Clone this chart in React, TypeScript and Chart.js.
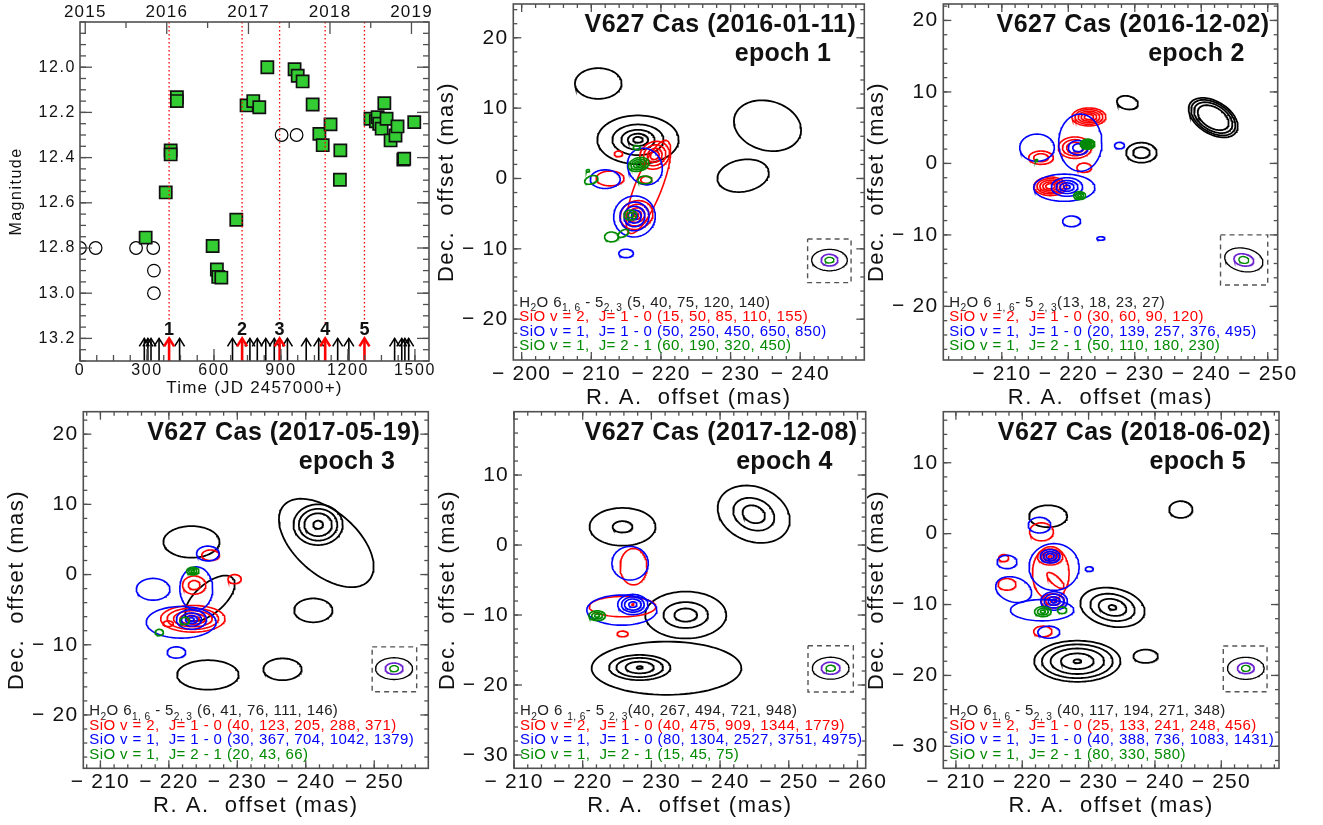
import React, { useEffect, useRef } from 'react';
import { Chart, registerables } from 'chart.js';
Chart.register(...registerables);

const W = 1323;
const H = 825;
const FONT = '"Liberation Sans", Helvetica, Arial, sans-serif';

// ---------------- light curve data ----------------
const sqJD = [294, 384, 406, 406, 434, 434, 594, 613, 619, 633, 700, 746, 776, 803, 839, 961, 975, 997, 1042, 1072, 1087, 1122, 1166, 1164, 1301, 1325, 1333, 1340, 1351, 1363, 1373, 1391, 1413, 1422, 1448, 1452, 1497];
const sqMag = [12.754, 12.554, 12.368, 12.386, 12.133, 12.15, 12.791, 12.895, 12.928, 12.931, 12.675, 12.169, 12.15, 12.177, 12.0, 12.009, 12.038, 12.063, 12.165, 12.295, 12.345, 12.253, 12.368, 12.498, 12.228, 12.239, 12.221, 12.25, 12.272, 12.159, 12.228, 12.324, 12.302, 12.262, 12.409, 12.405, 12.243];
const ocJD = [0, 70, 251, 328, 331, 331, 903, 970];
const ocMag = [12.8, 12.8, 12.8, 12.8, 12.9, 13.0, 12.3, 12.3];
const epochJD = [399, 726, 894, 1098, 1274];
const epochNum = ['1', '2', '3', '4', '5'];
const obsJD = [288, 304, 318, 354, 446, 683, 761, 794, 832, 870, 929, 1013, 1069, 1154, 1204, 1409, 1441, 1455, 1472];
const lcXTicks = [0, 300, 600, 900, 1200, 1500];
const lcYTicks = [12.0, 12.2, 12.4, 12.6, 12.8, 13.0, 13.2];
const yearJD = [23.5, 388.5, 754.5, 1119.5, 1484.5];
const yearLabels = ['2015', '2016', '2017', '2018', '2019'];
const halfYearJD = [206, 571.5, 937, 1302];

// ---------------- maps: blobs [RA, Dec, a, b, angle(deg), ...level scales] ----------------
const ep1H2O = [
  [-211.0, 13.5, 3.35, 2.18, 0, 1],
  [-216.7, 5.5, 5.84, 3.46, 0, 1, 0.63, 0.41, 0.25, 0.12],
  [-235.3, 7.5, 4.9, 3.5, -15, 1],
  [-231.8, 0.4, 3.73, 2.27, 10, 1],
];
const ep1V2 = [
  [-219.1, 3.3, 2.2, 1.9, 30, 1, 0.75, 0.5, 0.3],
  [-218.2, -1.2, 7.1, 1.9, 68, 1],
  [-216.5, -5.2, 2.4, 2.0, 20, 1, 0.75, 0.5, 0.3, 0.12],
  [-213.9, 3.5, 0.6, 0.4, 0, 1],
  [-212.7, 0.0, 2.0, 1.05, 0, 1],
  [-217.9, -0.2, 0.8, 0.5, 0, 1],
];
const ep1V1 = [
  [-212.0, -0.1, 2.15, 1.33, 0, 1],
  [-217.7, 1.7, 2.4, 2.7, 35, 1],
  [-216.2, -5.4, 3.0, 2.9, 20, 1, 0.7, 0.5, 0.32, 0.15],
  [-215.0, -10.65, 1.05, 0.6, 0, 1],
];
const ep1J21 = [
  [-216.8, 2.0, 1.5, 0.95, 15, 1, 0.75, 0.5, 0.25],
  [-216.5, 4.4, 0.5, 0.3, 0, 1],
  [-217.7, -0.2, 1.0, 0.55, 0, 1],
  [-210.0, -0.2, 1.0, 0.55, 20, 1],
  [-209.5, 1.1, 0.25, 0.18, 0, 1],
  [-215.6, -5.2, 0.9, 0.7, 0, 1, 0.5],
  [-212.9, -8.3, 1.0, 0.7, 0, 1],
  [-214.6, -7.8, 0.85, 0.45, 30, 1],
];
const ep1Beam = [-244.2, -11.6, 2.56, 1.52, 1.2, 0.83, 0.65, 0.4, 0];
const ep1BeamBox = [-241.06, -247.3, -8.6, -14.8];

const ep2H2O = [
  [-228.9, 8.5, 1.6, 0.93, -10, 1],
  [-241.8, 6.4, 4.0, 2.3, -28, 1, 0.9, 0.78, 0.63],
  [-231.0, 1.5, 2.3, 1.4, 0, 1, 0.55],
];
const ep2V2 = [
  [-223.1, 6.5, 2.55, 1.26, 0, 1, 0.82, 0.64, 0.46, 0.28],
  [-221.0, 2.2, 2.5, 1.5, 0, 1, 0.75, 0.5],
  [-215.9, 0.8, 1.85, 0.93, 0, 1, 0.6],
  [-222.4, -0.6, 1.1, 0.65, 0, 1],
  [-217.3, -3.2, 2.45, 1.3, 0, 1, 0.82, 0.64, 0.46, 0.28],
];
const ep2V1 = [
  [-221.8, 2.9, 3.25, 4.0, 0, 1],
  [-219.4, -3.4, 4.6, 1.9, 0, 1],
  [-215.3, 2.2, 2.6, 1.9, 0, 1],
  [-219.8, -3.3, 2.35, 1.3, 0, 1, 0.7, 0.45, 0.2],
  [-221.5, 2.2, 1.5, 1.0, 0, 1, 0.55],
  [-227.7, 2.5, 0.75, 0.45, 0, 1],
  [-220.5, -8.1, 1.35, 0.75, 0, 1],
  [-224.9, -10.5, 0.6, 0.25, 0, 1],
];
const ep2J21 = [
  [-222.9, 2.7, 1.1, 0.7, 0, 1, 0.8, 0.6, 0.4, 0.2],
  [-221.7, -4.5, 0.9, 0.55, 0, 1, 0.65, 0.3],
  [-215.2, 0.4, 0.2, 0.15, 0, 1],
];
const ep2Beam = [-246.4, -13.5, 2.9, 1.63, 1.5, 0.84, 0.75, 0.47, -10];
const ep2BeamBox = [-242.9, -250.0, -10.0, -17.0];

const ep3H2O = [
  [-223.3, 4.65, 4.1, 2.25, 0, 1],
  [-243.0, 4.5, 8.2, 4.5, -40, 1],
  [-241.8, 7.1, 3.6, 2.9, 0, 1, 0.78, 0.56, 0.2],
  [-226.0, -3.4, 4.4, 2.1, 40, 1],
  [-241.1, -5.1, 2.8, 1.7, 0, 1],
  [-225.7, -14.3, 4.5, 2.1, 0, 1],
  [-236.6, -13.5, 2.8, 1.55, 0, 1],
];
const ep3V2 = [
  [-223.5, -6.3, 4.7, 1.9, 0, 1, 0.8, 0.6, 0.4, 0.2],
  [-219.9, -7.0, 0.75, 0.4, 0, 1],
  [-223.7, -1.5, 1.7, 1.3, 0, 1, 0.5],
  [-226.1, 2.75, 1.3, 0.75, 0, 1],
  [-229.6, -0.65, 0.97, 0.65, 0, 1],
];
const ep3V1 = [
  [-225.7, 3.0, 1.65, 1.05, 0, 1],
  [-217.7, -2.1, 2.45, 1.55, 0, 1],
  [-224.0, -2.0, 2.4, 3.1, 0, 1],
  [-221.8, -6.8, 5.1, 2.25, 0, 1],
  [-223.3, -6.4, 2.2, 1.4, 0, 1, 0.67, 0.4, 0.18],
  [-221.1, -11.1, 1.35, 0.8, 0, 1],
];
const ep3J21 = [
  [-223.5, 0.5, 0.9, 0.55, 0, 1, 0.65, 0.3],
  [-222.3, -6.6, 0.7, 0.5, 0, 1],
  [-218.6, -8.25, 0.6, 0.45, 0, 1],
];
const ep3Beam = [-252.9, -13.4, 2.7, 1.55, 1.3, 0.8, 0.63, 0.43, 0];
const ep3BeamBox = [-249.7, -256.2, -10.3, -16.7];

const ep4H2O = [
  [-225.8, 2.6, 4.8, 2.7, 0, 1, 0.3],
  [-244.9, 4.4, 5.4, 3.9, -20, 1, 0.57, 0.31],
  [-235.0, -10.0, 5.9, 3.35, 0, 1, 0.55, 0.28],
  [-232.2, -17.6, 10.9, 3.8, 0, 1],
  [-228.3, -17.5, 4.47, 1.8, 0, 1, 0.76, 0.46, 0.1],
];
const ep4V2 = [
  [-227.4, -3.1, 1.95, 2.6, 0, 1],
  [-225.8, -8.8, 4.85, 1.45, 0, 1],
  [-227.3, -8.5, 0.15, 0.1, 0, 1],
  [-225.8, -12.7, 0.8, 0.4, 0, 1],
];
const ep4V1 = [
  [-226.9, -2.6, 2.65, 2.4, 0, 1],
  [-225.7, -9.3, 5.1, 2.15, 0, 1],
  [-227.3, -8.5, 2.2, 1.45, 0, 1, 0.75, 0.55, 0.27],
];
const ep4J21 = [
  [-222.1, -10.1, 1.2, 0.7, 0, 1, 0.65, 0.3],
];
const ep4Beam = [-256.1, -17.6, 2.67, 1.57, 1.36, 0.86, 0.68, 0.43, 0];
const ep4BeamBox = [-252.8, -259.4, -14.4, -21.0];

const ep5H2O = [
  [-223.9, 2.45, 2.87, 1.55, 0, 1],
  [-243.9, 3.4, 1.76, 1.18, 0, 1],
  [-233.6, -10.4, 4.9, 2.7, -10, 1, 0.69, 0.43, 0.12],
  [-228.3, -18.0, 6.5, 2.9, 0, 1, 0.82, 0.62, 0.38, 0.09],
  [-238.6, -17.3, 1.85, 0.94, 0, 1],
];
const ep5V2 = [
  [-222.9, 0.25, 1.8, 1.27, 0, 1],
  [-224.3, -5.6, 2.76, 3.76, 0, 1],
  [-224.2, -3.3, 1.9, 1.13, 0, 1, 0.7, 0.45, 0.15],
  [-225.0, -6.6, 1.6, 0.6, -40, 1],
  [-224.6, -9.5, 1.75, 1.0, 0, 1, 0.6, 0.2],
  [-217.2, -3.45, 0.75, 0.5, 0, 1],
  [-217.7, -7.15, 1.35, 0.82, 0, 1],
  [-223.1, -13.8, 1.38, 0.75, 0, 1],
];
const ep5V1 = [
  [-222.6, 1.2, 1.7, 1.1, 0, 1],
  [-217.7, -4.0, 1.5, 0.94, 0, 1],
  [-218.7, -7.9, 2.76, 1.74, -15, 1],
  [-224.8, -4.7, 3.77, 3.3, 0, 1],
  [-223.0, -10.8, 4.77, 1.5, 0, 1],
  [-224.2, -3.2, 1.5, 0.95, 0, 1, 0.7, 0.4],
  [-224.8, -9.5, 2.0, 1.3, 0, 1, 0.75, 0.45, 0.2],
  [-230.1, -5.0, 0.6, 0.33, 0, 1],
  [-224.0, -13.9, 1.65, 0.85, 0, 1],
];
const ep5J21 = [
  [-223.1, -11.0, 1.25, 0.7, 0, 1, 0.65, 0.3],
  [-226.0, -10.8, 0.7, 0.47, 0, 1],
];
const ep5Beam = [-253.7, -19.0, 2.76, 1.55, 1.26, 0.75, 0.65, 0.42, 0];
const ep5BeamBox = [-250.3, -256.9, -15.85, -22.3];

const epochDates = ['2016-01-11', '2016-12-02', '2017-05-19', '2017-12-08', '2018-06-02'];
const legH2O = ['(5, 40, 75, 120, 140)', '(13, 18, 23, 27)', '(6, 41, 76, 111, 146)', '(40, 267, 494, 721, 948)', '(40, 117, 194, 271, 348)'];
const legV2 = ['(15, 50, 85, 110, 155)', '(30, 60, 90, 120)', '(40, 123, 205, 288, 371)', '(40, 475, 909, 1344, 1779)', '(25, 133, 241, 248, 456)'];
const legV1 = ['(50, 250, 450, 650, 850)', '(20, 139, 257, 376, 495)', '(30, 367, 704, 1042, 1379)', '(80, 1304, 2527, 3751, 4975)', '(40, 388, 736, 1083, 1431)'];
const legJ21 = ['(60, 190, 320, 450)', '(50, 110, 180, 230)', '(20, 43, 66)', '(15, 45, 75)', '(80, 330, 580)'];
const h2oStyle = ['A', 'B', 'A', 'B', 'A'];

// ---------------- layout (positions / view ranges) ----------------
const LC_RECT = [80, 22, 429, 361];
const LC_X = [0, 1563];
const LC_Y = [11.8, 13.3];

const MAPS = [
  { rect: [513.3, 4, 864.3, 360], xr: [-198.8, -249.2], yr: [-25.8, 24.8], xt: [-200, -210, -220, -230, -240], yt: [-20, -10, 0, 10, 20], blobs: [ep1H2O, ep1V2, ep1V1, ep1J21], beam: ep1Beam, box: ep1BeamBox },
  { rect: [943.3, 4, 1277.7, 360], xr: [-201.2, -251.5], yr: [-27.5, 22.3], xt: [-210, -220, -230, -240, -250], yt: [-20, -10, 0, 10, 20], blobs: [ep2H2O, ep2V2, ep2V1, ep2J21], beam: ep2Beam, box: ep2BeamBox },
  { rect: [83.3, 411.7, 428.3, 768.3], xr: [-207.5, -257.9], yr: [-27.6, 23.2], xt: [-210, -220, -230, -240, -250], yt: [-20, -10, 0, 10, 20], blobs: [ep3H2O, ep3V2, ep3V1, ep3J21], beam: ep3Beam, box: ep3BeamBox },
  { rect: [514, 411.7, 865.7, 768.3], xr: [-210.0, -261.2], yr: [-31.9, 19.05], xt: [-210, -220, -230, -240, -250, -260], yt: [-30, -20, -10, 0, 10], blobs: [ep4H2O, ep4V2, ep4V1, ep4J21], beam: ep4Beam, box: ep4BeamBox },
  { rect: [943.3, 411.7, 1279, 768.3], xr: [-208.1, -258.7], yr: [-33.1, 17.2], xt: [-210, -220, -230, -240, -250], yt: [-30, -20, -10, 0, 10], blobs: [ep5H2O, ep5V2, ep5V1, ep5J21], beam: ep5Beam, box: ep5BeamBox },
];

const COLORS = ['#000000', '#ff0000', '#0000ff', '#008a00'];
const FRAME = '#505050';

// ---------------- helpers ----------------
const range = (a: number, b: number, s: number) => {
  const r: number[] = [];
  for (let v = a; v <= b + 1e-9; v += s) r.push(Math.round(v * 1000) / 1000);
  return r;
};

function ring(b: number[], s: number, n = 90) {
  const [cx, cy, a, bb, ang] = b;
  const r = (ang * Math.PI) / 180;
  const pts: { x: number; y: number }[] = [];
  for (let i = 0; i <= n; i++) {
    const t = (i / n) * 2 * Math.PI;
    const ex = a * s * Math.cos(t);
    const ey = bb * s * Math.sin(t);
    const sx = ex * Math.cos(r) - ey * Math.sin(r);
    const sy = ex * Math.sin(r) + ey * Math.cos(r);
    pts.push({ x: cx - sx, y: cy + sy });
  }
  return pts;
}

function text(ctx: any, s: string, x: number, y: number, font: string, align: string, base: string, color = '#000', sp = '0px') {
  ctx.font = font;
  ctx.textAlign = align;
  ctx.textBaseline = base;
  ctx.fillStyle = color;
  try { ctx.letterSpacing = sp; } catch (e) { /* ignore */ }
  ctx.fillText(s, x, y);
  try { ctx.letterSpacing = '0px'; } catch (e) { /* ignore */ }
}

function line(ctx: any, x1: number, y1: number, x2: number, y2: number) {
  ctx.beginPath();
  ctx.moveTo(x1, y1);
  ctx.lineTo(x2, y2);
  ctx.stroke();
}

function drawSides(chart: any, o: any) {
  const ctx = chart.ctx;
  const a = chart.chartArea;
  const xs = chart.scales.x;
  const ys = chart.scales.y;
  ctx.save();
  ctx.strokeStyle = FRAME;
  ctx.lineWidth = 1.3;
  const inX = (v: number) => { const p = xs.getPixelForValue(v); return p >= a.left - 0.5 && p <= a.right + 0.5; };
  const inY = (v: number) => { const p = ys.getPixelForValue(v); return p >= a.top - 0.5 && p <= a.bottom + 0.5; };
  const sides = o.sides;
  for (const key of Object.keys(sides)) {
    const sd = sides[key];
    const all = [...sd.minor.map((v: number) => [v, o.minLen]), ...sd.major.map((v: number) => [v, o.majLen])];
    for (const [v, len] of all) {
      if (key === 'bottom' || key === 'top') {
        if (!inX(v)) continue;
        const p = xs.getPixelForValue(v);
        if (key === 'bottom') line(ctx, p, a.bottom, p, a.bottom - len);
        else line(ctx, p, a.top, p, a.top + len);
      } else {
        if (!inY(v)) continue;
        const p = ys.getPixelForValue(v);
        if (key === 'left') line(ctx, a.left, p, a.left + len, p);
        else line(ctx, a.right, p, a.right - len, p);
      }
    }
  }
  ctx.lineWidth = 1.6;
  ctx.strokeRect(a.left, a.top, a.right - a.left, a.bottom - a.top);
  ctx.restore();
}

const fmtMap = (v: number) => (v < 0 ? '\u2212 ' + Math.abs(v) : String(v));

function drawRich(ctx: any, x: number, y: number, segs: [string, number][], color: string, size: number) {
  let cx = x;
  ctx.textAlign = 'left';
  ctx.textBaseline = 'alphabetic';
  ctx.fillStyle = color;
  try { ctx.letterSpacing = '0.4px'; } catch (e) { /* ignore */ }
  for (const [t, sub] of segs) {
    const fs = sub ? size * 0.68 : size;
    ctx.font = `${fs}px ${FONT}`;
    ctx.fillText(t, cx, y + (sub ? size * 0.3 : 0));
    cx += ctx.measureText(t).width;
  }
  try { ctx.letterSpacing = '0px'; } catch (e) { /* ignore */ }
}

// ---------------- plugins ----------------
const lcPlugin = {
  id: 'lcframe',
  afterDraw(chart: any) {
    const ctx = chart.ctx;
    const a = chart.chartArea;
    const xs = chart.scales.x;
    const ys = chart.scales.y;
    // observation arrows
    ctx.save();
    const tipY = ys.getPixelForValue(13.2);
    const drawArrow = (jd: number, color: string, lw: number) => {
      const x = xs.getPixelForValue(jd);
      ctx.strokeStyle = color;
      ctx.lineWidth = lw;
      ctx.lineCap = 'butt';
      line(ctx, x, a.bottom, x, tipY);
      ctx.beginPath();
      ctx.moveTo(x - 5, tipY + 8);
      ctx.lineTo(x, tipY);
      ctx.lineTo(x + 5, tipY + 8);
      ctx.stroke();
    };
    for (const jd of obsJD) drawArrow(jd, '#000', 1.6);
    epochJD.forEach((jd, i) => {
      drawArrow(jd, '#ff0000', 2.6);
      text(ctx, epochNum[i], xs.getPixelForValue(jd), tipY - 8, `bold 18px ${FONT}`, 'center', 'middle', '#111');
    });
    ctx.restore();

    drawSides(chart, {
      majLen: 12,
      minLen: 6,
      sides: {
        bottom: { major: lcXTicks, minor: range(0, LC_X[1], 75) },
        top: { major: yearJD, minor: halfYearJD },
        left: { major: lcYTicks, minor: range(11.8, 13.3, 0.05) },
        right: { major: lcYTicks, minor: range(11.8, 13.3, 0.05) },
      },
    });
    ctx.save();
    const f = `16px ${FONT}`;
    for (const v of lcXTicks) text(ctx, String(v), xs.getPixelForValue(v), a.bottom + 10, f, 'center', 'middle', '#111', '1.6px');
    yearJD.forEach((v, i) => text(ctx, yearLabels[i], xs.getPixelForValue(v), a.top - 10, `17px ${FONT}`, 'center', 'middle', '#111', '1.2px'));
    for (const v of lcYTicks) text(ctx, v.toFixed(1), a.left - 4, ys.getPixelForValue(v), f, 'right', 'middle', '#111', '1.6px');
    text(ctx, 'Time (JD 2457000+)', (a.left + a.right) / 2, a.bottom + 27, `17px ${FONT}`, 'center', 'middle', '#111', '1.2px');
    ctx.translate(a.left - 63, (a.top + a.bottom) / 2);
    ctx.rotate(-Math.PI / 2);
    text(ctx, 'Magnitude', 0, 0, `16px ${FONT}`, 'center', 'middle', '#111', '1.5px');
    ctx.restore();
  },
};

const mapPlugin = {
  id: 'mapframe',
  afterDraw(chart: any) {
    const o = chart.options.plugins.mapframe;
    const ctx = chart.ctx;
    const a = chart.chartArea;
    const xs = chart.scales.x;
    const ys = chart.scales.y;
    const xmin = Math.min(xs.min, xs.max);
    const xmax = Math.max(xs.min, xs.max);
    const xMinor = range(Math.ceil(xmin / 2) * 2, xmax, 2);
    const yMinor = range(Math.ceil(ys.min / 2) * 2, ys.max, 2);
    drawSides(chart, {
      majLen: 8,
      minLen: 4,
      sides: {
        bottom: { major: o.xt, minor: xMinor },
        top: { major: o.xt, minor: xMinor },
        left: { major: o.yt, minor: yMinor },
        right: { major: o.yt, minor: yMinor },
      },
    });
    ctx.save();
    const tf = `21px ${FONT}`;
    for (const v of o.xt) text(ctx, fmtMap(v), xs.getPixelForValue(v), a.bottom + 14, tf, 'center', 'middle', '#111', '1.2px');
    for (const v of o.yt) text(ctx, fmtMap(v), a.left - 5, ys.getPixelForValue(v), tf, 'right', 'middle', '#111', '1.2px');
    text(ctx, 'R. A.  offset (mas)', (a.left + a.right) / 2, a.bottom + 38, `22px ${FONT}`, 'center', 'middle', '#111', '1.5px');
    ctx.save();
    ctx.translate(a.left - 66, (a.top + a.bottom) / 2);
    ctx.rotate(-Math.PI / 2);
    text(ctx, 'Dec.  offset (mas)', 0, 0, `22px ${FONT}`, 'center', 'middle', '#111', '1.5px');
    ctx.restore();
    // title
    text(ctx, `V627 Cas (${o.date})`, a.right - 8, a.top + 21, `bold 25px ${FONT}`, 'right', 'middle', '#111', '0.5px');
    text(ctx, `epoch ${o.ep}`, a.right - 33, a.top + 50, `bold 25px ${FONT}`, 'right', 'middle', '#111', '0.3px');
    // legend
    const size = 15;
    const x0 = a.left + 6;
    const ys0 = [a.bottom - 58.5, a.bottom - 44.2, a.bottom - 29.3, a.bottom - 15];
    const bl = (cy: number) => cy + size * 0.36;
    const h2o: [string, number][] = o.style === 'A'
      ? [['H', 0], ['2', 1], ['O 6', 0], ['1, 6', 1], [' - 5', 0], ['2, 3', 1], [' ' + o.l[0], 0]]
      : [['H', 0], ['2', 1], ['O 6 ', 0], ['1, 6', 1], ['- 5 ', 0], ['2, 3', 1], [o.l[0], 0]];
    drawRich(ctx, x0, bl(ys0[0]), h2o, '#222', size);
    drawRich(ctx, x0, bl(ys0[1]), [['SiO v = 2,  J= 1 - 0 ' + o.l[1], 0]], COLORS[1], size);
    drawRich(ctx, x0, bl(ys0[2]), [['SiO v = 1,  J= 1 - 0 ' + o.l[2], 0]], COLORS[2], size);
    drawRich(ctx, x0, bl(ys0[3]), [['SiO v = 1,  J= 2 - 1 ' + o.l[3], 0]], COLORS[3], size);
    ctx.restore();
  },
};

// ---------------- chart configs ----------------
function lcConfig(): any {
  const datasets: any[] = [];
  epochJD.forEach((jd) => {
    datasets.push({
      data: [{ x: jd, y: LC_Y[0] }, { x: jd, y: 13.14 }],
      showLine: true, borderColor: '#ff0000', borderWidth: 1.3, borderDash: [1.5, 2.5], pointRadius: 0, order: 0,
    });
  });
  datasets.push({
    data: sqJD.map((x, i) => ({ x, y: sqMag[i] })),
    pointStyle: 'rect', pointRadius: 8.6, backgroundColor: '#33cc33', borderColor: '#111', borderWidth: 1.7, order: 1,
  });
  datasets.push({
    data: ocJD.map((x, i) => ({ x, y: ocMag[i] })),
    pointStyle: 'circle', pointRadius: 6.3, backgroundColor: 'rgba(0,0,0,0)', borderColor: '#000', borderWidth: 1.2, order: 2,
  });
  return {
    type: 'scatter',
    data: { datasets },
    options: {
      responsive: false, animation: false, events: [],
      layout: { padding: { left: LC_RECT[0], top: LC_RECT[1], right: W - LC_RECT[2], bottom: H - LC_RECT[3] } },
      scales: {
        x: { type: 'linear', display: false, min: LC_X[0], max: LC_X[1] },
        y: { type: 'linear', display: false, min: LC_Y[0], max: LC_Y[1], reverse: true },
      },
      plugins: { legend: { display: false }, tooltip: { enabled: false } },
    },
    plugins: [lcPlugin],
  };
}

function mapConfig(i: number): any {
  const m = MAPS[i];
  const datasets: any[] = [];
  m.blobs.forEach((list, k) => {
    for (const b of list) {
      for (const s of b.slice(5)) {
        datasets.push({
          data: ring(b, s), showLine: true, pointRadius: 0, borderColor: COLORS[k],
          borderWidth: k === 0 ? 1.8 : 1.6, tension: 0, order: 10 - k,
        });
      }
    }
  });
  const [bx, by, a1, b1, a2, b2, a3, b3, ang] = m.beam;
  const [x1, x2, y1, y2] = m.box;
  datasets.push({
    data: [{ x: x1, y: y1 }, { x: x2, y: y1 }, { x: x2, y: y2 }, { x: x1, y: y2 }, { x: x1, y: y1 }],
    showLine: true, pointRadius: 0, borderColor: '#555', borderWidth: 1.4, borderDash: [5, 4], order: 1,
  });
  datasets.push({ data: ring([bx, by, a1, b1, ang], 1), showLine: true, pointRadius: 0, borderColor: '#000', borderWidth: 1.3, order: 1 });
  datasets.push({ data: ring([bx, by, a2, b2, ang], 1), showLine: true, pointRadius: 0, borderColor: '#6a1fd0', borderWidth: 1.6, order: 1 });
  datasets.push({ data: ring([bx, by, a3, b3, ang], 1), showLine: true, pointRadius: 0, borderColor: COLORS[3], borderWidth: 1.3, order: 0 });
  const [L, T, R, B] = m.rect;
  return {
    type: 'scatter',
    data: { datasets },
    options: {
      responsive: false, animation: false, events: [],
      layout: { padding: { left: L, top: T, right: W - R, bottom: H - B } },
      scales: {
        x: { type: 'linear', display: false, min: Math.min(...m.xr), max: Math.max(...m.xr), reverse: true },
        y: { type: 'linear', display: false, min: m.yr[0], max: m.yr[1] },
      },
      plugins: {
        legend: { display: false }, tooltip: { enabled: false },
        mapframe: {
          xt: m.xt, yt: m.yt, date: epochDates[i], ep: String(i + 1), style: h2oStyle[i],
          l: [legH2O[i], legV2[i], legV1[i], legJ21[i]],
        },
      },
    },
    plugins: [mapPlugin],
  };
}

function Panel({ make }: { make: () => any }) {
  const ref = useRef<HTMLCanvasElement>(null);
  useEffect(() => {
    const ch = new Chart(ref.current as HTMLCanvasElement, make());
    return () => ch.destroy();
  }, []);
  return <canvas ref={ref} width={W} height={H} style={{ position: 'absolute', left: 0, top: 0, width: W, height: H }} />;
}

export default function App() {
  return (
    <div style={{ position: 'absolute', left: 0, top: 0, width: W, height: H, background: '#fff', overflow: 'hidden' }}>
      <Panel make={lcConfig} />
      {MAPS.map((_, i) => (
        <Panel key={i} make={() => mapConfig(i)} />
      ))}
    </div>
  );
}
